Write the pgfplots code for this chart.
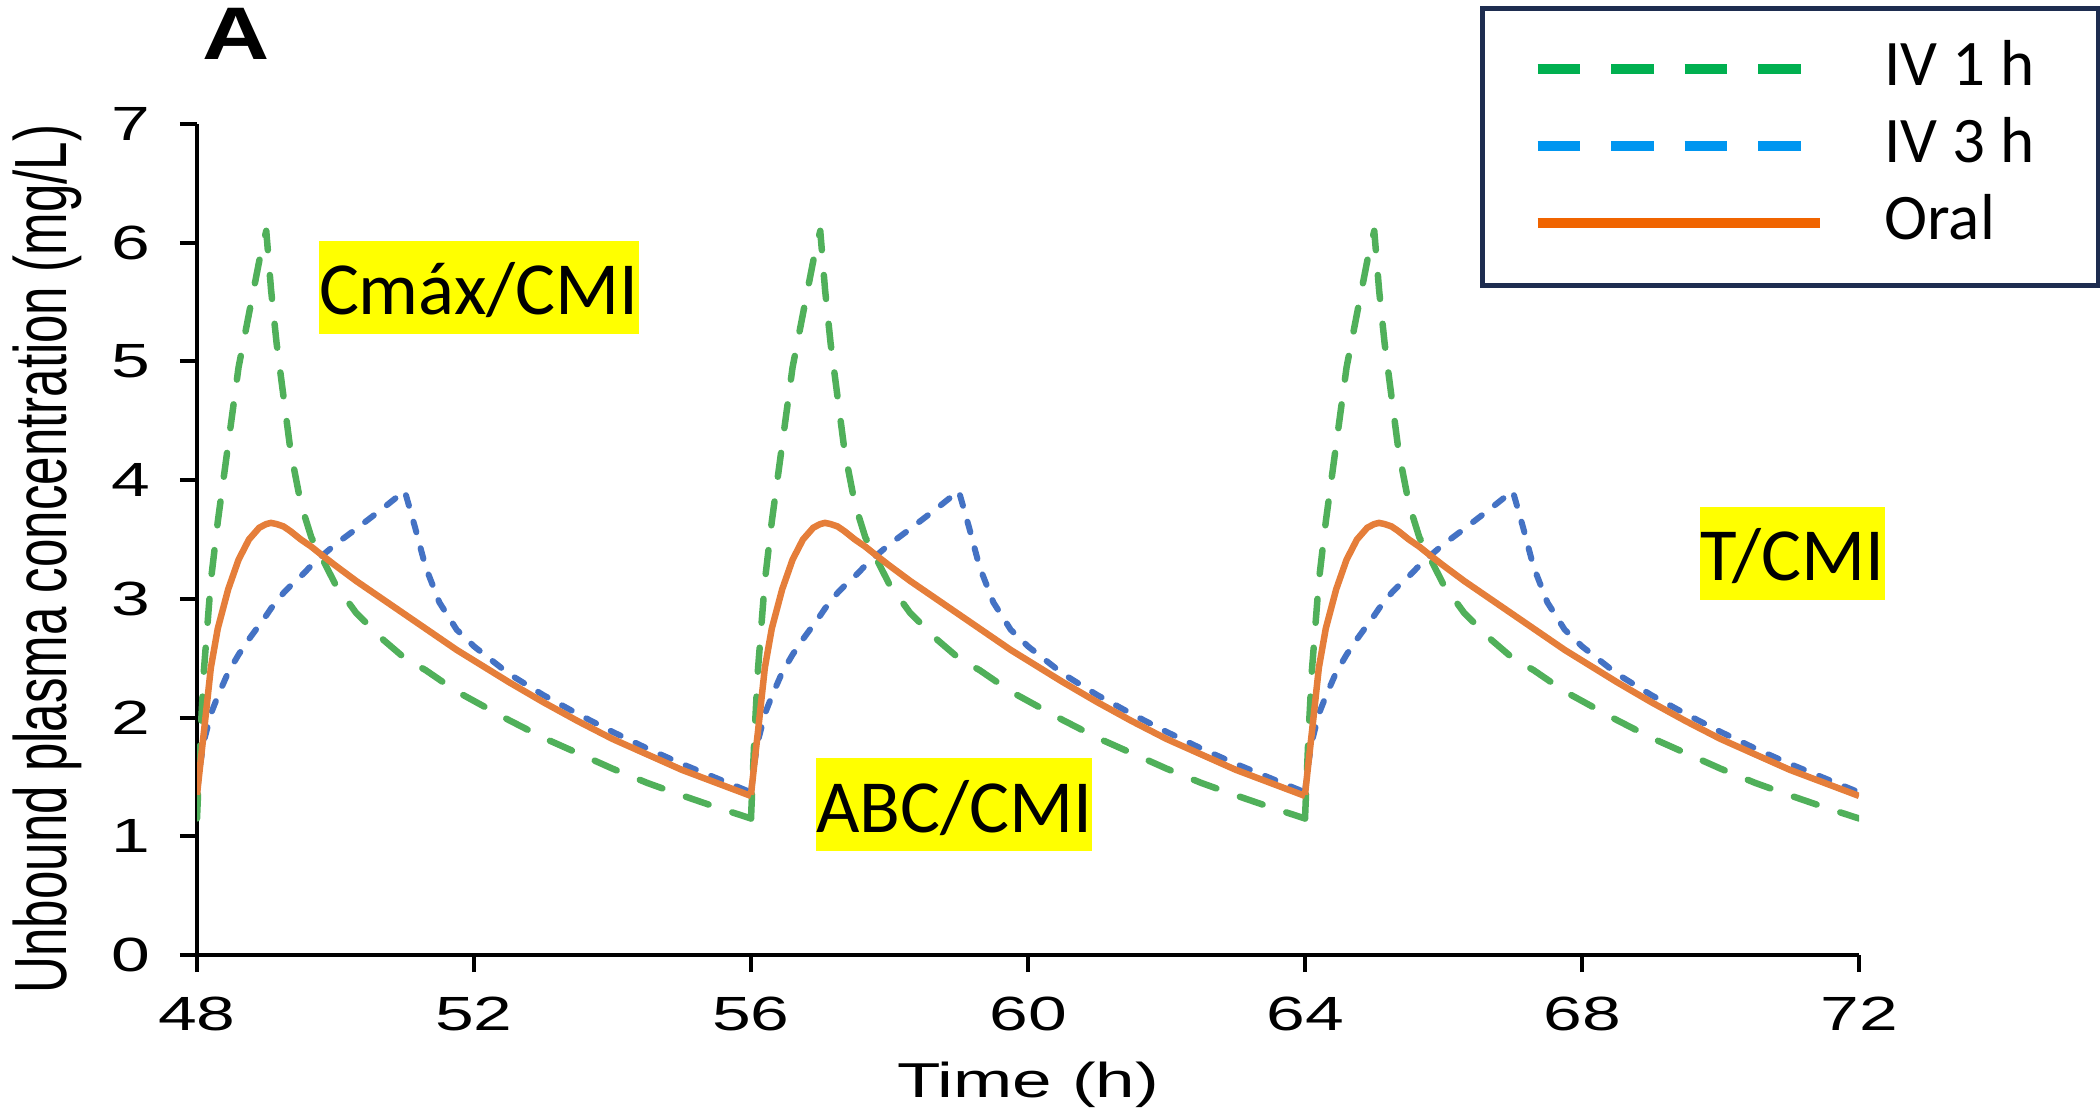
\documentclass[border=0pt]{standalone}
\usepackage{fontspec}
\setmainfont{Liberation Sans}
% the source figure was stretched sideways, so the axis text is too
\newfontfamily\axisfont[FakeStretch=1.45]{Liberation Sans}
\newfontfamily\ylabfont[FakeStretch=0.69]{Liberation Sans}
\newfontfamily\panelfont[FakeStretch=1.25]{Liberation Sans}
\newfontfamily\calibri{Carlito}
\usepackage{pgfplots}
\usepackage{pgfplotstable}
\pgfplotsset{compat=1.18}

\definecolor{plotgreen}{RGB}{80,176,90}
\definecolor{plotblue}{RGB}{68,114,196}
\definecolor{plotorange}{RGB}{229,126,58}
\definecolor{leggreen}{RGB}{0,176,80}
\definecolor{legblue}{RGB}{0,150,240}
\definecolor{legorange}{RGB}{240,100,0}
\definecolor{legnavy}{RGB}{30,45,80}
\definecolor{annyellow}{RGB}{255,255,0}

% one dosing interval at steady state (tau = h after dose), mg/L
\pgfplotstableread{
tau   green  blue  oral
0     1.15   1.37  1.35
0.05  1.85   1.62  1.62
0.1   2.4    1.8   1.88
0.2   3.15   2.03  2.42
0.3   3.65   2.18  2.75
0.45  4.3    2.38  3.08
0.6   4.95   2.53  3.33
0.75  5.4    2.66  3.5
0.9   5.85   2.78  3.6
1.0   6.1    2.86  3.63
1.07  5.6    2.92  3.64
1.15  5.15   2.98  3.63
1.25  4.7    3.05  3.61
1.35  4.25   3.11  3.57
1.5   3.8    3.19  3.5
1.65  3.52   3.28  3.44
1.8   3.35   3.36  3.37
2.0   3.12   3.46  3.28
2.3   2.88   3.59  3.15
2.7   2.65   3.77  2.99
3.0   2.5    3.91  2.87
3.15  2.45   3.6   2.81
3.3   2.4    3.27  2.75
3.5   2.32   2.97  2.67
3.75  2.22   2.74  2.57
4.0   2.14   2.6   2.48
4.5   1.98   2.37  2.30
5.0   1.83   2.19  2.13
5.5   1.70   2.03  1.97
6.0   1.57   1.88  1.82
6.5   1.45   1.74  1.69
7.0   1.345  1.61  1.56
7.5   1.245  1.49  1.45
8.0   1.15   1.37  1.34
}\cycle

\begin{document}
\begin{tikzpicture}
\useasboundingbox (0,0) rectangle (420pt,222.4pt);
\begin{axis}[
    at={(39.4pt,31.4pt)}, anchor=south west,
    scale only axis, width=332.4pt, height=166.2pt,
    xmin=48, xmax=72, ymin=0, ymax=7,
    xtick={48,52,...,72}, ytick={0,1,...,7},
    axis x line*=bottom, axis y line*=left,
    axis line style={line width=0.8pt, black},
    tick style={line width=0.8pt, black},
    major tick length=3.4pt, tick align=outside,
    /pgf/number format/assume math mode=true,
    tick label style={font=\axisfont\fontsize{9.6}{11}\selectfont},
    xticklabel style={yshift=-1.5pt},
    yticklabel style={xshift=-2.4pt},
    xlabel={Time (h)},
    xlabel style={font=\axisfont\fontsize{9.8}{11}\selectfont,
        at={(rel axis cs:0.5,-0.172)}, anchor=base},
    ylabel={Unbound plasma concentration (mg/L)},
    ylabel style={font=\ylabfont\fontsize{14.8}{16}\selectfont,
        at={(rel axis cs:-0.0788,0.4765)}, anchor=base},
    every axis plot/.append style={line join=round},
    legend image code/.code={\draw[#1] (0pt,3.2pt) -- (56.4pt,3.2pt);},
    legend style={at={(rel axis cs:0.7717,1.1414)}, anchor=north west,
        draw=legnavy, line width=1pt, fill=white,
        inner xsep=10.1pt, inner ysep=6.3pt,
        row sep=3.4pt, column sep=12pt,
        font=\calibri\fontsize{13}{13}\selectfont,
        nodes={inner sep=0pt, text height=9pt, text depth=3pt, anchor=base west}},
]
% IV 1 h
\addplot[plotgreen, line width=1.3pt, dash pattern=on 4.8pt off 5pt, line cap=round, forget plot]
    table[x expr=\thisrow{tau}+48, y=green]{\cycle};
\addplot[plotgreen, line width=1.3pt, dash pattern=on 4.8pt off 5pt, line cap=round, forget plot]
    table[x expr=\thisrow{tau}+56, y=green]{\cycle};
\addplot[plotgreen, line width=1.3pt, dash pattern=on 4.8pt off 5pt, line cap=round, forget plot]
    table[x expr=\thisrow{tau}+64, y=green]{\cycle};
% IV 3 h
\addplot[plotblue, line width=1.2pt, dash pattern=on 2.2pt off 3.3pt, line cap=round, forget plot]
    table[x expr=\thisrow{tau}+48, y=blue]{\cycle};
\addplot[plotblue, line width=1.2pt, dash pattern=on 2.2pt off 3.3pt, line cap=round, forget plot]
    table[x expr=\thisrow{tau}+56, y=blue]{\cycle};
\addplot[plotblue, line width=1.2pt, dash pattern=on 2.2pt off 3.3pt, line cap=round, forget plot]
    table[x expr=\thisrow{tau}+64, y=blue]{\cycle};
% oral
\addplot[plotorange, line width=1.3pt, forget plot]
    table[x expr=\thisrow{tau}+48, y=oral]{\cycle};
\addplot[plotorange, line width=1.3pt, forget plot]
    table[x expr=\thisrow{tau}+56, y=oral]{\cycle};
\addplot[plotorange, line width=1.3pt, forget plot]
    table[x expr=\thisrow{tau}+64, y=oral]{\cycle};

\addlegendimage{leggreen, line width=2pt, dash pattern=on 8.5pt off 6.2pt}
\addlegendentry{IV 1 h\hspace*{2.7pt}}
\addlegendimage{legblue, line width=2pt, dash pattern=on 8.5pt off 6.2pt}
\addlegendentry{IV 3 h}
\addlegendimage{legorange, line width=2pt}
\addlegendentry{Oral}
\end{axis}

\node[anchor=base west, inner sep=0pt, font=\panelfont\bfseries\fontsize{14.9}{16}\selectfont]
    at (40.3pt,210.4pt) {A};

\begin{scope}[every node/.style={fill=annyellow, inner sep=0pt, anchor=south west,
        text height=14.8pt, text depth=3.8pt, font=\calibri\fontsize{15}{15}\selectfont}]
\node[minimum width=63.6pt] at (63.6pt,155.4pt) {Cmáx/CMI};
\node[minimum width=55.2pt] at (163pt,52pt) {ABC/CMI};
\node[minimum width=37pt] at (339.8pt,102.2pt) {T/CMI};
\end{scope}
\end{tikzpicture}
\end{document}
